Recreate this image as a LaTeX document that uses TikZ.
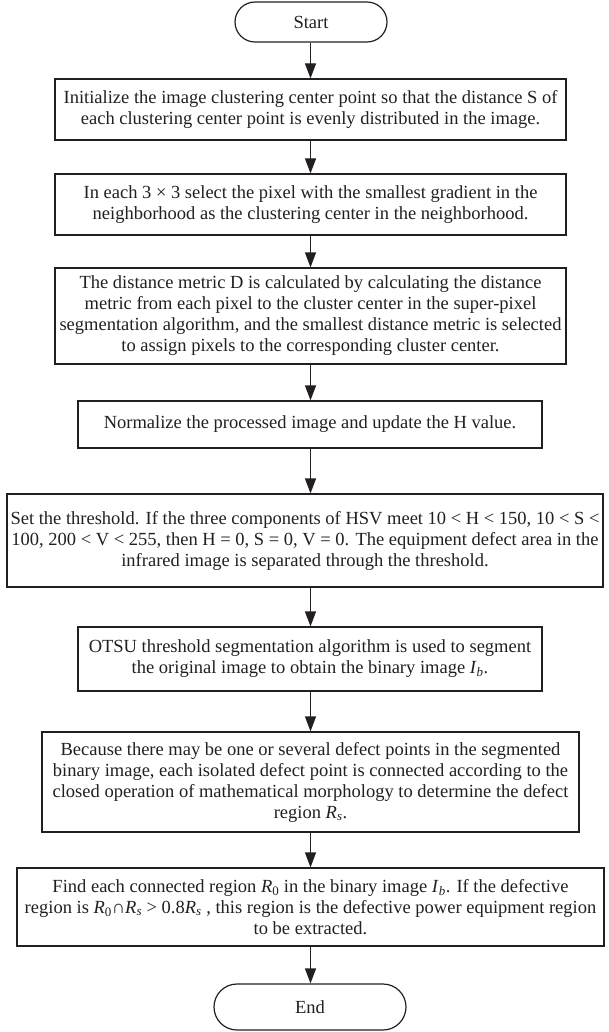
\documentclass[tikz,border=0pt]{standalone}
\usepackage{fontspec}
\setmainfont{Liberation Serif}
\usetikzlibrary{arrows.meta}

\definecolor{ink}{HTML}{231F20}

% italic symbols with subscripts used in the step texts
\newcommand\symRz{\textit{R}\textsubscript{0}}
\newcommand\symRs{\textit{R}\textsubscript{\textit{s}}}
\newcommand\symIb{\textit{I}\textsubscript{\textit{b}}}

\tikzset{
  flowtext/.style={font=\fontsize{18.5}{21}\selectfont, text=ink, align=center, inner sep=0pt},
  stepbox/.style={flowtext, draw=ink, line width=1.2pt, rectangle},
  terminal/.style={flowtext, draw=ink, line width=1.2pt, rectangle, rounded corners=#1},
  flowarrow/.style={draw=ink, line width=1.2pt, -{Triangle[length=15pt,width=11pt]}}
}

\begin{document}
\begin{tikzpicture}[x=1pt, y=-1pt]
  \useasboundingbox (0,0) rectangle (608,1032);

  % vertical line on which all connectors run
  \coordinate (axis) at (310.5,0);

  \node[terminal=20pt, minimum width=152pt, minimum height=40pt] (start) at (311,22) {Start};

  \node[stepbox, minimum width=511pt, minimum height=61pt] (s1) at (310.5,109.5)
    {Initialize the image clustering center point so that the distance S of\\
     each clustering center point is evenly distributed in the image.};

  \node[stepbox, minimum width=511pt, minimum height=61pt] (s2) at (310.5,204.5)
    {In each 3 × 3 select the pixel with the smallest gradient in the\\
     neighborhood as the clustering center in the neighborhood.};

  \node[stepbox, minimum width=511pt, minimum height=96pt] (s3) at (310.5,316)
    {The distance metric D is calculated by calculating the distance\\
     metric from each pixel to the cluster center in the super-pixel\\
     segmentation algorithm, and the smallest distance metric is selected\\
     to assign pixels to the corresponding cluster center.};

  \node[stepbox, minimum width=464pt, minimum height=47pt] (s4) at (310,424.5)
    {Normalize the processed image and update the H value.};

  \node[stepbox, minimum width=596pt, minimum height=93pt] (s5) at (305,540.5)
    {Set the threshold. If the three components of HSV meet 10 < H < 150, 10 < S <\\
     100, 200 < V < 255, then H = 0, S = 0, V = 0. The equipment defect area in the\\
     infrared image is separated through the threshold.};

  \node[stepbox, minimum width=464pt, minimum height=64pt] (s6) at (310,659)
    {OTSU threshold segmentation algorithm is used to segment\\
     the original image to obtain the binary image \symIb.};

  \node[stepbox, minimum width=537pt, minimum height=100pt] (s7) at (310.5,782)
    {Because there may be one or several defect points in the segmented\\
     binary image, each isolated defect point is connected according to the\\
     closed operation of mathematical morphology to determine the defect\\
     region \symRs.};

  \node[stepbox, minimum width=587pt, minimum height=78pt] (s8) at (310.5,907)
    {Find each connected region \symRz\ in the binary image \symIb. If the defective\\
     region is \symRz∩\symRs\ > 0.8\symRs\ , this region is the defective power equipment region\\
     to be extracted.};

  \node[terminal=23pt, minimum width=192pt, minimum height=46pt] (end) at (310,1007) {End};

  % straight vertical connectors between consecutive steps
  \foreach \a/\b in {start/s1, s1/s2, s2/s3, s3/s4, s4/s5, s5/s6, s6/s7, s7/s8, s8/end}
    \draw[flowarrow] (axis |- \a.south) -- (axis |- \b.north);
\end{tikzpicture}
\end{document}
